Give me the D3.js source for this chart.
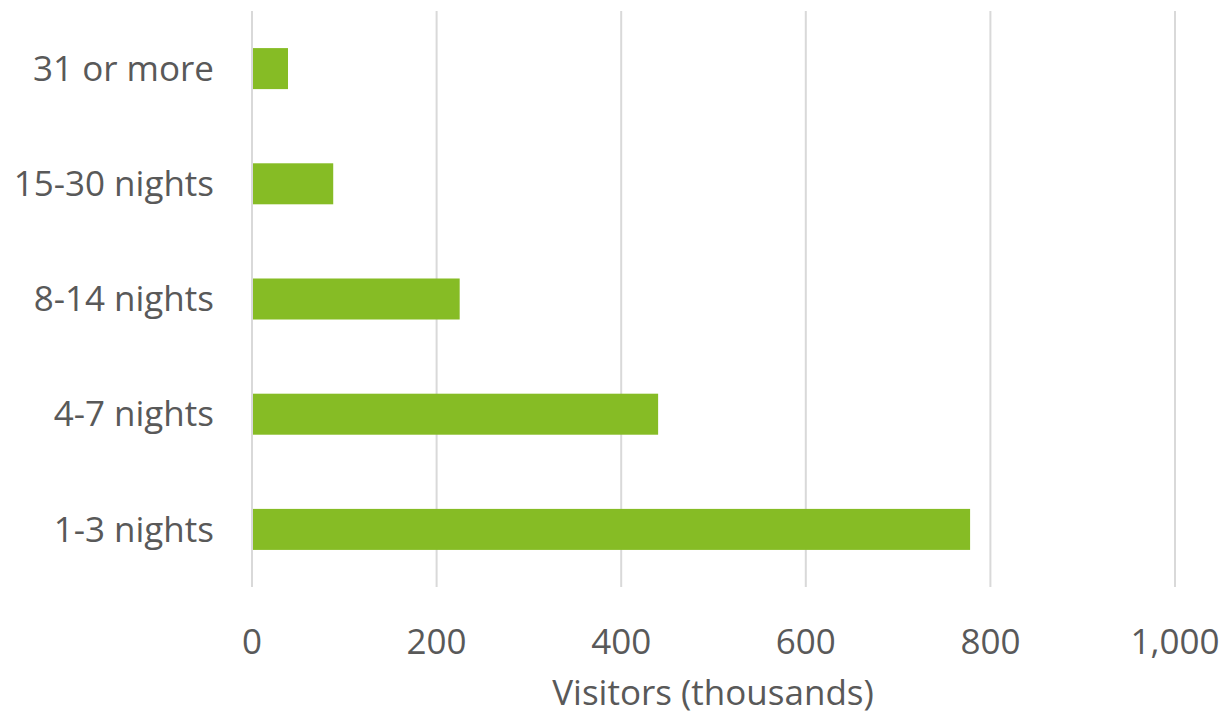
<!DOCTYPE html>
<html>
<head>
<meta charset="utf-8">
<script src="https://cdn.jsdelivr.net/npm/d3@7"></script>
<style>
  html, body { margin: 0; padding: 0; background: #fff; }
  svg { display: block; font-family: "Open Sans", "Noto Sans", sans-serif; }
</style>
</head>
<body>
<svg id="chart" width="1224" height="716"></svg>
<script>
// Length of stay categories (top to bottom) and visitor counts in thousands
const categories = ["31 or more", "15-30 nights", "8-14 nights", "4-7 nights", "1-3 nights"];
const visitors = [39, 88, 225, 440, 778];
const xTicks = [0, 200, 400, 600, 800, 1000];
const xTitle = "Visitors (thousands)";

const svg = d3.select("#chart");
const margin = { left: 252, right: 49, top: 11, bottom: 129 };
const W = 1224, H = 716;
const fontSize = 35;

const x = d3.scaleLinear().domain([0, 1000]).range([margin.left, W - margin.right]);
const y = d3.scaleBand().domain(categories)
  .range([margin.top, H - margin.bottom])
  .paddingInner(0.644).paddingOuter(0.322);

// Vertical gridlines
svg.append("g").selectAll("line").data(xTicks).join("line")
  .attr("x1", d => x(d)).attr("x2", d => x(d))
  .attr("y1", margin.top).attr("y2", H - margin.bottom)
  .attr("stroke", "#d9d9d9").attr("stroke-width", 2);

// Bars
svg.append("g").selectAll("rect").data(categories).join("rect")
  .attr("x", x(0) + 1)
  .attr("y", d => y(d))
  .attr("width", (d, i) => x(visitors[i]) - x(0) - 1)
  .attr("height", y.bandwidth())
  .attr("fill", "#86bc25");

// Category labels
svg.append("g").selectAll("text").data(categories).join("text")
  .attr("x", 214)
  .attr("y", d => y(d) + y.bandwidth() / 2)
  .attr("dy", "0.35em")
  .attr("text-anchor", "end")
  .attr("fill", "#595959")
  .attr("font-size", fontSize)
  .text(d => d);

// X tick labels
const fmt = d3.format(",");
svg.append("g").selectAll("text").data(xTicks).join("text")
  .attr("x", d => x(d))
  .attr("y", 654)
  .attr("text-anchor", "middle")
  .attr("fill", "#595959")
  .attr("font-size", fontSize)
  .text(d => fmt(d));

// Axis title
svg.append("text")
  .attr("x", 713).attr("y", 705)
  .attr("text-anchor", "middle")
  .attr("fill", "#595959")
  .attr("font-size", fontSize)
  .text(xTitle);
</script>
</body>
</html>
